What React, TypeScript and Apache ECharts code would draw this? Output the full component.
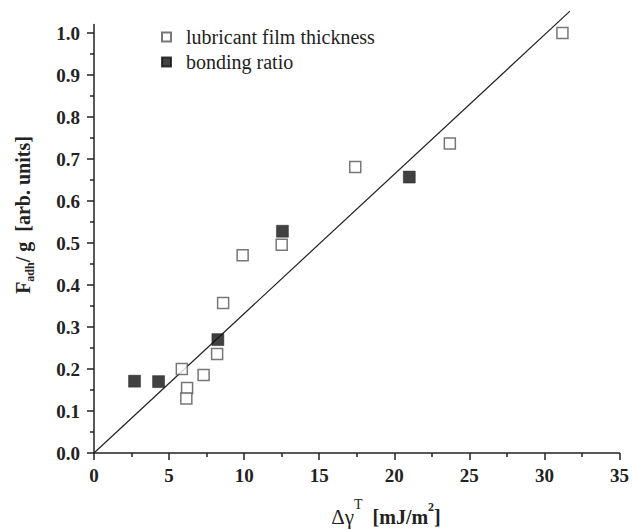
import React, { useEffect, useRef } from "react";
import * as echarts from "echarts";

const lubricantX = [31.2, 23.7, 17.4, 12.5, 9.9, 8.6, 8.2, 5.85, 7.3, 6.2, 6.15];
const lubricantY = [1.0, 0.737, 0.681, 0.496, 0.471, 0.357, 0.236, 0.2, 0.186, 0.155, 0.13];
const bondingX = [21.0, 12.55, 8.25, 2.7, 4.3];
const bondingY = [0.657, 0.528, 0.27, 0.171, 0.17];
const fitX = [0, 31.7];
const fitY = [0, 1.052];
const yTicks = [0, 0.1, 0.2, 0.3, 0.4, 0.5, 0.6, 0.7, 0.8, 0.9, 1.0];

const FONT = "Liberation Serif";

export default function App() {
  const ref = useRef<HTMLDivElement>(null);
  useEffect(() => {
    if (!ref.current) return;
    const chart = echarts.init(ref.current, null, { renderer: "svg" });
    chart.setOption({
      animation: false,
      backgroundColor: "#fff",
      grid: { left: 94, right: 10, top: 24.6, bottom: 77, containLabel: false },
      legend: {
        orient: "vertical",
        left: 156,
        top: 22,
        itemWidth: 9,
        itemHeight: 9,
        itemGap: 5,
        data: ["lubricant film thickness", "bonding ratio"],
        textStyle: { fontFamily: FONT, fontSize: 20, color: "#222", padding: [0, 0, 0, 10] },
      },
      xAxis: {
        type: "value",
        min: 0,
        max: 35,
        interval: 5,
        splitLine: { show: false },
        axisLine: { lineStyle: { color: "#222", width: 1.5 } },
        axisTick: { inside: false, length: 7, lineStyle: { color: "#222", width: 1.5 } },
        minorTick: { show: true, splitNumber: 2, length: 4, lineStyle: { color: "#222", width: 1.5 } },
        axisLabel: {
          margin: 13,
          fontFamily: FONT,
          fontWeight: "bold",
          fontSize: 19,
          color: "#222",
        },
      },
      yAxis: {
        type: "value",
        min: 0,
        max: 1.02,
        interval: 0.1,
        splitLine: { show: false },
        axisLine: { show: true, lineStyle: { color: "#222", width: 1.5 } },
        axisTick: { inside: false, length: 7, customValues: yTicks, lineStyle: { color: "#222", width: 1.5 } },
        minorTick: { show: true, splitNumber: 2, length: 4, lineStyle: { color: "#222", width: 1.5 } },
        axisLabel: {
          customValues: yTicks,
          margin: 14,
          fontFamily: FONT,
          fontWeight: "bold",
          fontSize: 19,
          color: "#222",
          formatter: (v: number) => v.toFixed(1),
        },
      },
      series: [
        {
          name: "fit",
          type: "line",
          data: fitX.map((x, i) => [x, fitY[i]]),
          showSymbol: false,
          symbol: "none",
          clip: false,
          lineStyle: { color: "#222", width: 1.2 },
          z: 1,
        },
        {
          name: "lubricant film thickness",
          type: "scatter",
          symbol: "rect",
          symbolSize: 11,
          data: lubricantX.map((x, i) => [x, lubricantY[i]]),
          itemStyle: { color: "#fff", borderColor: "#555", borderWidth: 1.5 },
          z: 3,
        },
        {
          name: "bonding ratio",
          type: "scatter",
          symbol: "rect",
          symbolSize: 12,
          data: bondingX.map((x, i) => [x, bondingY[i]]),
          itemStyle: { color: "#111", borderColor: "#111", borderWidth: 0.5 },
          z: 4,
        },
      ],
      graphic: [
        {
          type: "text",
          x: 23,
          y: 215,
          rotation: Math.PI / 2,
          style: {
            text: "{b|F}{sub|adh}{b|/ g  [arb. units]}",
            align: "center",
            verticalAlign: "middle",
            fill: "#222",
            rich: {
              b: { fontFamily: FONT, fontWeight: "bold", fontSize: 20, lineHeight: 26, verticalAlign: "middle", fill: "#222" },
              sub: { fontFamily: FONT, fontWeight: "bold", fontSize: 12, lineHeight: 26, verticalAlign: "bottom", fill: "#222" },
            },
          },
        },
        {
          type: "text",
          x: 386,
          y: 512,
          style: {
            text: "{r|Δγ}{sup|T}{b|  [mJ/m}{sup2|2}{b|]}",
            align: "center",
            verticalAlign: "middle",
            fill: "#222",
            rich: {
              r: { fontFamily: FONT, fontSize: 21, lineHeight: 30, verticalAlign: "bottom", fill: "#222" },
              b: { fontFamily: FONT, fontWeight: "bold", fontSize: 20, lineHeight: 30, verticalAlign: "bottom", fill: "#222" },
              sup: { fontFamily: FONT, fontSize: 14, lineHeight: 30, verticalAlign: "top", fill: "#222" },
              sup2: { fontFamily: FONT, fontWeight: "bold", fontSize: 12, lineHeight: 30, verticalAlign: "top", fill: "#222", padding: [4, 0, 0, 0] },
            },
          },
        },
      ],
    });
    return () => chart.dispose();
  }, []);
  return <div ref={ref} style={{ position: "absolute", left: 0, top: 0, width: 632, height: 530 }} />;
}
